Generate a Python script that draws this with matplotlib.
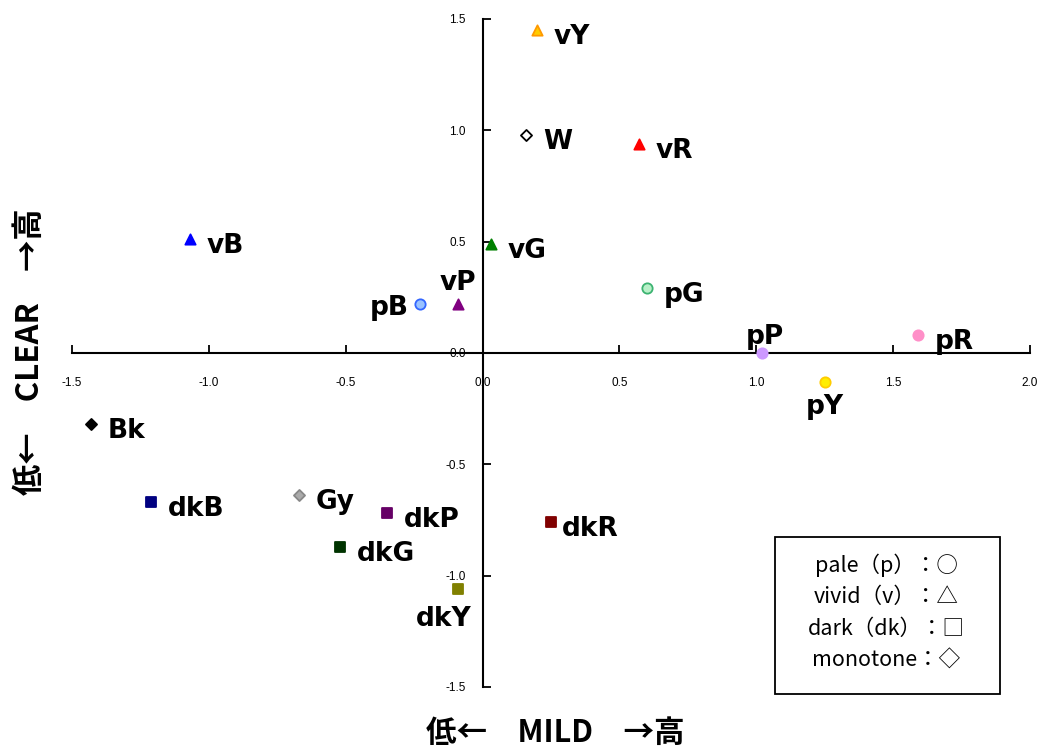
import matplotlib
matplotlib.use("Agg")
import matplotlib.pyplot as plt
from matplotlib.patches import Rectangle

plt.rcParams['font.family'] = ['Noto Sans CJK JP', 'DejaVu Sans']

# colour samples: name, mild (x), clear (y)
names = ['vY', 'W', 'vR', 'vB', 'vG', 'pG', 'pB', 'vP', 'pP', 'pR', 'pY',
         'Bk', 'dkB', 'Gy', 'dkP', 'dkG', 'dkR', 'dkY']
mild = [0.20, 0.16, 0.57, -1.07, 0.03, 0.60, -0.23, -0.09, 1.02, 1.59, 1.25,
        -1.43, -1.21, -0.67, -0.35, -0.52, 0.25, -0.09]
clear = [1.45, 0.98, 0.94, 0.51, 0.49, 0.29, 0.22, 0.22, 0.0, 0.08, -0.13,
         -0.32, -0.67, -0.64, -0.72, -0.87, -0.76, -1.06]

legend_lines = ['pale（p）：○', 'vivid（v）：△', 'dark（dk）：□', 'monotone：◇']

# marker style per point
markers = ['^', 'D', '^', '^', '^', 'o', 'o', '^', 'o', 'o', 'o',
           'D', 's', 'D', 's', 's', 's', 's']
faces = ['#ffcc00', 'white', '#ff0000', '#0000ff', '#008000', '#b8f0c8', '#99c2ff',
         '#800080', '#cc99ff', '#ff8fc8', '#ffee00', 'black', '#000080', '#aaaaaa',
         '#660066', '#003300', '#800000', '#808000']
edges = ['#ff9900', 'black', '#ff0000', '#0000ff', '#008000', '#3cb371', '#3366ff',
         '#800080', '#cc99ff', '#ff8fc8', '#ffcc00', 'black', '#000080', '#888888',
         '#660066', '#003300', '#800000', '#808000']
# label offsets in points
offsets = {'pB': (-8, -3, 'right', 'center'), 'vP': (0, 6, 'center', 'bottom'),
           'pP': (2, 2, 'center', 'bottom'), 'pY': (0, -9, 'center', 'top'),
           'dkY': (-10, -12, 'center', 'top'), 'dkR': (8, -5, 'left', 'center')}

fig = plt.figure(figsize=(10.44, 7.48), dpi=100)
ax = fig.add_axes([0.069, 0.0816, 0.9176, 0.893])

for i in range(len(names)):
    sz = 55 if markers[i] != 'D' else 32
    ax.scatter(mild[i], clear[i], marker=markers[i], s=sz, c=faces[i],
               edgecolors=edges[i], linewidths=1.3, zorder=3)
    dx, dy, ha, va = offsets.get(names[i], (12, -5, 'left', 'center'))
    ax.annotate(names[i], (mild[i], clear[i]), xytext=(dx, dy), textcoords='offset points',
                ha=ha, va=va, fontsize=19, fontweight='bold', fontfamily='DejaVu Sans')

ax.set_xlim(-1.5, 2.0)
ax.set_ylim(-1.5, 1.5)
ax.spines['left'].set_position(('data', 0))
ax.spines['bottom'].set_position(('data', 0))
ax.spines['right'].set_visible(False)
ax.spines['top'].set_visible(False)
for s in ['left', 'bottom']:
    ax.spines[s].set_linewidth(1.5)
ax.set_xticks([-1.5, -1.0, -0.5, 0.0, 0.5, 1.0, 1.5, 2.0])
ax.set_yticks([-1.5, -1.0, -0.5, 0.0, 0.5, 1.0, 1.5])
ax.xaxis.set_major_formatter(plt.FormatStrFormatter('%.1f'))
ax.yaxis.set_major_formatter(plt.FormatStrFormatter('%.1f'))
ax.tick_params(axis='x', direction='in', length=6, width=1.3, pad=17, labelsize=8.5)
ax.tick_params(axis='y', direction='in', length=6, width=1.3, pad=12, labelsize=8.5)
for lab in ax.get_xticklabels() + ax.get_yticklabels():
    lab.set_fontfamily('Liberation Sans')

fig.text(0.532, 0.02, '低←　MILD　→高', ha='center', va='center',
         fontsize=22, fontweight='bold')
fig.text(0.029, 0.53, '低←　CLEAR　→高', ha='center', va='center',
         fontsize=22.5, fontweight='bold', rotation=90)

# legend box drawn by hand
fig.patches.append(Rectangle((0.7423, 0.0722), 0.2155, 0.2099, transform=fig.transFigure,
                             facecolor='white', edgecolor='black', linewidth=1.3))
for k, line in enumerate(legend_lines):
    fig.text(0.849, 0.2447 - k * 0.0428, line, ha='center', va='center', fontsize=15.5)

fig.savefig('out.png', dpi=100)
